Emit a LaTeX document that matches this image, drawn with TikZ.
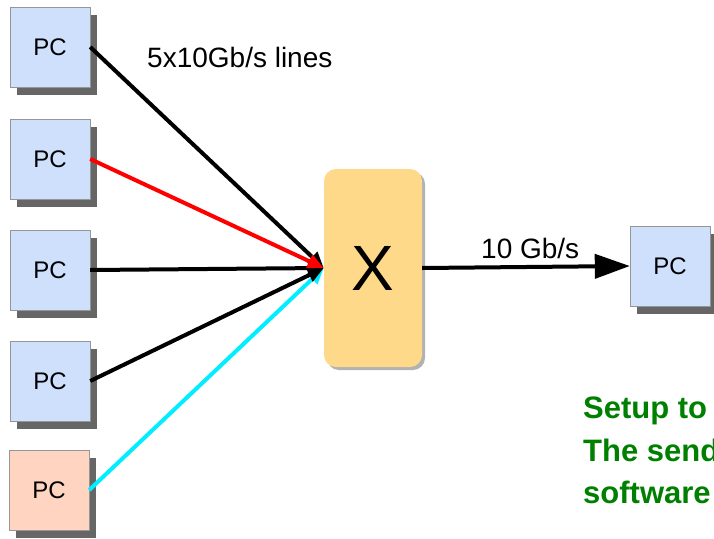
\documentclass[tikz,border=0pt]{standalone}
\usepackage{fontspec}
\setmainfont{Liberation Sans}
\usetikzlibrary{arrows.meta,positioning,shadows}
\definecolor{clrpc}{RGB}{207,224,252}
\definecolor{clrsend}{RGB}{255,212,192}
\definecolor{clrsw}{RGB}{255,217,138}
\definecolor{clrframe}{RGB}{150,150,150}
\definecolor{clrshadow}{RGB}{102,102,102}
\definecolor{clrgreen}{RGB}{0,128,0}
\definecolor{clrcyan}{RGB}{0,238,255}

\begin{document}
\begin{tikzpicture}[x=1pt, y=-1pt,
    pc/.style={draw=clrframe, fill=clrpc, minimum size=80pt, inner sep=0pt,
               font=\fontsize{24}{28}\selectfont,
               general shadow={fill=clrshadow, shadow xshift=7pt, shadow yshift=-8pt}},
    sender/.style={pc, fill=clrsend},
    sw/.style={fill=clrsw, rounded corners=12pt, minimum width=98pt,
               minimum height=198pt, inner sep=0pt,
               font=\fontsize{64}{70}\selectfont,
               general shadow={fill=black!30, shadow xshift=3pt, shadow yshift=-3pt}},
    lbl/.style={inner sep=0pt, font=\fontsize{28}{32}\selectfont},
    note/.style={inner sep=0pt, text=clrgreen, font=\fontsize{31}{43}\selectfont\bfseries},
    link/.style={line width=4pt, -{Triangle[length=16pt,width=14pt]}},
  ]
    \useasboundingbox (0,0) rectangle (714,538);
    \clip (0,0) rectangle (714,538);

    \node[pc]     (pc1)   at (50,47)  {PC};
    \node[pc]     (pc2)   at (50,159) {PC};
    \node[pc]     (pc3)   at (50,270) {PC};
    \node[pc]     (pc4)   at (50,381) {PC};
    \node[sender] (pc5)   at (49,490) {PC};
    \node[sw]     (sw)    at (373,268) {X};
    \node[pc]     (pcout) at (670,266) {PC};

    \node[lbl, anchor=base west] (lines) at (147,67)  {5x10Gb/s lines};
    \node[lbl, anchor=base west] (rate)  at (481,258) {10 Gb/s};

    \node[note, anchor=base west] (note1) at (583,418) {Setup to};
    \node[note, anchor=base west] (note2) at (583,461) {The send};
    \node[note, anchor=base west] (note3) at (583,503) {software};

    \draw[link, clrcyan] (pc5.east) -- (sw.west);
    \draw[link]          (pc4.east) -- (sw.west);
    \draw[link]          (pc3.east) -- (sw.west);
    \draw[link]          (pc1.east) -- (sw.west);
    \draw[link, red]     (pc2.east) -- (sw.west);
    \draw[link, -{Triangle[length=35pt,width=24pt]}] (sw.east) -- (pcout.west);
\end{tikzpicture}
\end{document}
